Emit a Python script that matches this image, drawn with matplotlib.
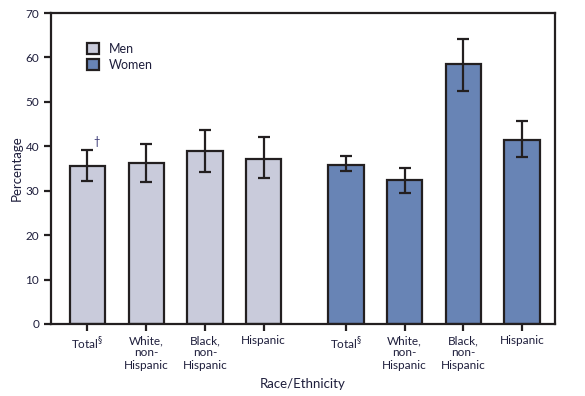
import numpy as np
import matplotlib
matplotlib.use("Agg")
import matplotlib.pyplot as plt
from matplotlib.patches import Patch

plt.rcParams['font.family'] = ['Lato', 'DejaVu Sans']

groups = ["Total$^\\S$", "White,\nnon-\nHispanic", "Black,\nnon-\nHispanic", "Hispanic"]
men = [35.6, 36.3, 39.0, 37.2]
men_lo = [32.2, 32.0, 34.2, 32.9]
men_hi = [39.2, 40.5, 43.7, 42.0]
women = [35.8, 32.3, 58.6, 41.5]
women_lo = [34.4, 29.4, 52.5, 37.6]
women_hi = [37.8, 35.2, 64.1, 45.6]

ink = "#231F20"
men_col = "#C9CBDB"
women_col = "#6884B5"

fig = plt.figure(figsize=(5.85, 3.96), dpi=100)
ax = fig.add_axes([51/585, 1 - 324/396, (555-51)/585, (324-13)/396])

xm = np.arange(4)
xw = np.arange(4) + 4.4

def draw(x, vals, lo, hi, col):
    vals = np.array(vals)
    err = [vals - np.array(lo), np.array(hi) - vals]
    ax.bar(x, vals, width=0.6, color=col, edgecolor=ink, linewidth=1.6, zorder=2)
    ax.errorbar(x, vals, yerr=err, fmt="none", ecolor=ink, elinewidth=1.6,
                capsize=4, capthick=1.6, zorder=3)

draw(xm, men, men_lo, men_hi, men_col)
draw(xw, women, women_lo, women_hi, women_col)

ax.text(xm[0] + 0.15, men_hi[0] + 0.6, "\u2020", color="#2B2A6B", fontsize=8,
        ha="center", va="bottom")

ax.set_xlim(-0.62, 7.96)
ax.set_ylim(0, 70)
ax.set_yticks(range(0, 71, 10))
ax.set_xticks(np.concatenate([xm, xw]))
ax.set_xticklabels(groups + groups, fontsize=8.5, color="#1E1E3C", linespacing=1.15)
ax.tick_params(axis="y", labelsize=8.5, labelcolor="#1E1E3C", direction="out",
               length=5, width=1.6, color=ink)
ax.tick_params(axis="x", direction="out", length=5, width=1.6, color=ink, pad=3)
for s in ax.spines.values():
    s.set_linewidth(1.6)
    s.set_color(ink)

ax.set_ylabel("Percentage", fontsize=9.5, color="#1E1E3C", labelpad=2)
ax.set_xlabel("Race/Ethnicity", fontsize=9.5, color="#1E1E3C", labelpad=5)

handles = [Patch(facecolor=men_col, edgecolor=ink, linewidth=1.6, label="Men"),
           Patch(facecolor=women_col, edgecolor=ink, linewidth=1.6, label="Women")]
ax.legend(handles=handles, loc="upper left", bbox_to_anchor=(0.05, 0.94),
          frameon=False, fontsize=9, handlelength=0.9, handleheight=0.9,
          handletextpad=0.8, labelspacing=0.3, labelcolor="#1E1E3C")

fig.savefig("out.png", dpi=100)
